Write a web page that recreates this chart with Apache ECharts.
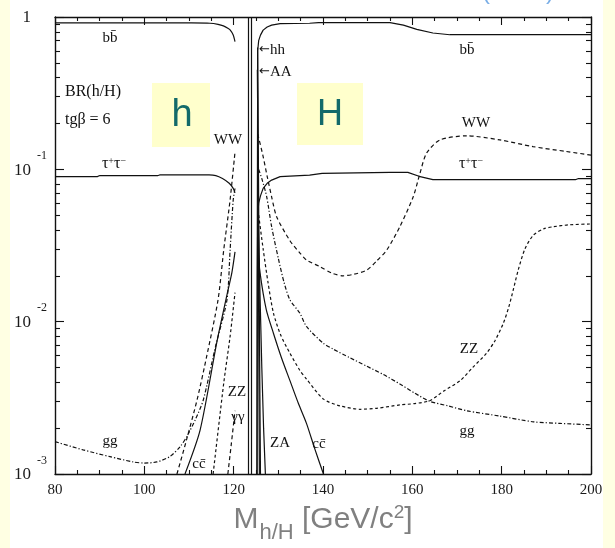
<!DOCTYPE html>
<html>
<head>
<meta charset="utf-8">
<script src="https://cdn.jsdelivr.net/npm/echarts@6/dist/echarts.min.js"></script>
<style>
  html, body { margin: 0; padding: 0; }
  #chart {
    width: 615px; height: 548px;
    background: linear-gradient(to right, #FFFFE3 0, #FFFFE3 10px, #ffffff 10px, #ffffff 603px, #FFFFE3 603px);
  }
</style>
</head>
<body>
<div id="chart"></div>
<script>
// Axis ranges and tick labels
const massTicks = [80, 100, 120, 140, 160, 180, 200];
const brDecades = [0.001, 0.01, 0.1, 1];
// double separator line between the h and H branches
const separatorMass = [123.35, 124.0];

// ---- light scalar h : branching ratios vs mass [GeV] ----
const bb_h = [[80,0.915],[100,0.915],[110,0.914],[114.7,0.91],[116.5,0.895],[117.7,0.875],[118.7,0.845],[119.2,0.823],[119.9,0.763],[120.3,0.69]];
const tautau_h = [[80,0.0896],[89.5,0.0896],[90,0.091],[103,0.091],[103.5,0.092],[114.5,0.092],[116,0.091],[117.5,0.087],[119,0.081],[119.9,0.075],[120.3,0.07]];
const WW_h = [[107.3,0.001],[109,0.0015],[111.8,0.00306],[114,0.006],[116.5,0.0139],[117.8,0.03],[119.2,0.063],[120.3,0.13]];
const gg_h = [[80,0.00163],[86.3,0.00144],[92.3,0.0013],[97.5,0.0012],[100,0.00118],[102.8,0.0012],[105.7,0.0013],[108,0.00151],[109.5,0.00176],[111.5,0.0023],[113.2,0.00306],[116,0.007],[118.5,0.0139],[119.2,0.0295],[119.9,0.063],[120.3,0.075]];
const cc_h = [[109.1,0.001],[112.5,0.00195],[116.3,0.0075],[118.5,0.015],[119.6,0.021],[120.3,0.0287]];
const ZZ_h = [[115.4,0.001],[117.8,0.004],[119.2,0.008],[120.3,0.0155]];
const gamgam_h = [[118.7,0.001],[119.5,0.0016],[120.3,0.0026]];

// ---- heavy scalar H : branching ratios vs mass [GeV] ----
const bb_H = [[125.2,0.001],[125.3,0.05],[125.38,0.6],[125.6,0.7],[126,0.76],[126.6,0.82],[127.5,0.86],[128.5,0.885],[130.4,0.905],[137,0.91],[139,0.918],[155,0.918],[158,0.885],[161,0.83],[164.6,0.785],[168.4,0.765],[200,0.765]];
const tautau_H = [[125.25,0.001],[125.3,0.02],[125.38,0.05],[125.6,0.06],[126,0.067],[126.6,0.075],[127.5,0.081],[128.5,0.085],[130.4,0.0895],[137,0.0915],[139.8,0.094],[155,0.0955],[159,0.0955],[161.5,0.09],[164.6,0.0855],[196.5,0.0855],[197.2,0.087],[200,0.087]];
const WW_H = [[125.4,0.17],[126.5,0.125],[127.5,0.09],[128.5,0.066],[129.6,0.049],[132.6,0.034],[134.8,0.0283],[136.3,0.0254],[139.3,0.023],[142,0.0208],[144.5,0.02],[147,0.0205],[149.8,0.0218],[152,0.025],[154.3,0.0296],[157.2,0.042],[160.2,0.066],[161.7,0.094],[163.2,0.128],[166.2,0.156],[172.2,0.166],[179.6,0.156],[187,0.141],[194.5,0.131],[200,0.124]];
const gg_H = [[125.6,0.1],[126.4,0.085],[127.4,0.066],[128.5,0.042],[130,0.026],[131.3,0.018],[132.6,0.0139],[134.8,0.0114],[136.3,0.0093],[140.1,0.0072],[142.3,0.0066],[146,0.0058],[149.8,0.0051],[153.5,0.0045],[157.2,0.0039],[160.5,0.0034],[163.9,0.003],[168,0.0028],[172.2,0.0026],[179.6,0.0024],[187.1,0.0022],[193,0.00215],[200,0.0021]];
const ZZ_H = [[125.6,0.05],[126.6,0.03],[127.7,0.018],[128.9,0.0114],[130.5,0.0082],[132.6,0.0062],[134.8,0.0048],[136.3,0.0042],[140.1,0.0031],[143.8,0.0028],[148.3,0.00266],[152,0.0027],[157.2,0.00284],[160.5,0.0029],[163.9,0.00303],[167,0.0035],[170.7,0.0041],[173.5,0.005],[176.6,0.0062],[178.5,0.0075],[180.4,0.0098],[181.6,0.0125],[182.6,0.0162],[183.7,0.0218],[185.2,0.03],[187.1,0.037],[189.5,0.0408],[191.6,0.042],[195,0.0432],[200,0.0438]];
const cc_H = [[125.45,0.03],[125.9,0.021],[127.3,0.012],[128.9,0.0084],[130.7,0.0058],[132.6,0.0041],[134.5,0.0029],[136.3,0.00215],[138.2,0.00145],[140.1,0.001]];
const hh_H = [[125.35,0.63],[125.45,0.3],[125.55,0.1],[125.7,0.02],[125.85,0.004],[126,0.001]];
const AA_H = [[125.3,0.45],[125.35,0.3],[125.45,0.08],[125.6,0.01],[125.75,0.001]];
const ZA_H = [[125.5,0.05],[125.9,0.015],[126.3,0.005],[126.7,0.002],[127.1,0.001]];

// minor ticks of the log axis: 2..9 within each decade
const minorBR = [];
for (let d = -3; d < 0; d++) for (let k = 2; k <= 9; k++) minorBR.push(+(k * Math.pow(10, d)).toPrecision(3));

const INK = '#111';
const SERIF = 'Liberation Serif';
const SANS = 'Liberation Sans';
const TITLE_GRAY = '#808080';
const DASH = [4, 3];
const DASH_FINE = [3, 2.5];
const DASH_DOT = [4, 2, 1.2, 2];

function curve(name, data, dash, smooth) {
  return {
    name, type: 'line', data, showSymbol: false, symbol: 'none',
    smooth: smooth === undefined ? 0.25 : smooth,
    lineStyle: { color: INK, width: 1.2, type: dash || 'solid' },
    silent: true, animation: false, clip: true, z: 3
  };
}

const tickLine = { color: INK, width: 1.1 };
const minorYAxis = (pos) => ({
  type: 'log', logBase: 10, min: brDecades[0], max: brDecades[brDecades.length - 1], position: pos,
  axisLine: { show: false }, axisLabel: { show: false }, splitLine: { show: false },
  axisTick: { show: true, inside: true, length: 5, customValues: minorBR, lineStyle: tickLine }
});

const chart = echarts.init(document.getElementById('chart'), null, { renderer: 'canvas' });

const label = (text, x, y, extra) => ({
  type: 'text', x, y, z: 50, silent: true,
  style: Object.assign({ text, font: '15px "Liberation Serif"', fill: INK, align: 'center', verticalAlign: 'middle' }, extra || {})
});
const richTau = {
  t: { fontSize: 16, fontFamily: SERIF, fill: INK, lineHeight: 16, padding: [6, 0, 0, 0], verticalAlign: 'bottom' },
  s: { fontSize: 10, fontFamily: SERIF, fill: INK, lineHeight: 10, verticalAlign: 'top' }
};
const richArrow = {
  a: { fontSize: 13, fontFamily: 'DejaVu Sans', fill: INK },
  t: { fontSize: 15, fontFamily: SERIF, fill: INK }
};

chart.setOption({
  animation: false,
  grid: { left: 55, top: 17, width: 536, height: 457, outerBoundsMode: 'none', containLabel: false },
  xAxis: [
    {
      type: 'value', min: massTicks[0], max: massTicks[massTicks.length - 1], interval: 20, position: 'bottom',
      axisLine: { show: true, onZero: false, lineStyle: { color: INK, width: 1.4 } },
      axisTick: { show: true, inside: true, length: 8, lineStyle: tickLine },
      minorTick: { show: true, splitNumber: 4, length: 4, lineStyle: tickLine },
      splitLine: { show: false }, minorSplitLine: { show: false },
      axisLabel: { show: true, margin: 9, fontFamily: SERIF, fontSize: 15, color: '#1a1a1a',
        customValues: massTicks },
      name: '{m|M}{sub|h/H}{t| [GeV/c}{sup|2}{t|]}', nameLocation: 'middle', nameGap: 38,
      nameTextStyle: {
        rich: {
          m: { fontSize: 30, fontFamily: SANS, color: TITLE_GRAY, lineHeight: 30, padding: [0, 0, 9, 0], verticalAlign: 'bottom' },
          t: { fontSize: 30, fontFamily: SANS, color: TITLE_GRAY, lineHeight: 30, padding: [0, 0, 9, 0], verticalAlign: 'bottom' },
          sub: { fontSize: 22, fontFamily: SANS, color: TITLE_GRAY, lineHeight: 22, padding: [0, 0, 0, 1], verticalAlign: 'bottom' },
          sup: { fontSize: 19, fontFamily: SANS, color: TITLE_GRAY, lineHeight: 19, padding: [0, 0, 22, 0], verticalAlign: 'bottom' }
        }
      }
    },
    {
      type: 'value', min: massTicks[0], max: massTicks[massTicks.length - 1], interval: 20, position: 'top',
      axisLine: { show: true, onZero: false, lineStyle: { color: INK, width: 1.4 } },
      axisTick: { show: true, inside: true, length: 8, lineStyle: tickLine },
      minorTick: { show: true, splitNumber: 4, length: 4, lineStyle: tickLine },
      splitLine: { show: false }, axisLabel: { show: false }
    }
  ],
  yAxis: [
    {
      type: 'log', logBase: 10, min: brDecades[0], max: brDecades[brDecades.length - 1], position: 'left',
      axisLine: { show: true, onZero: false, lineStyle: { color: INK, width: 1.4 } },
      axisTick: { show: true, inside: true, length: 9, lineStyle: tickLine },
      splitLine: { show: false },
      axisLabel: {
        show: true, margin: 8, align: 'right', padding: [0, 0, 22, 0],
        formatter: (v) => {
          const e = Math.round(Math.log10(v));
          return e === 0 ? '{b|1}{s| }' : '{b|10}{s|' + e + '}';
        },
        rich: {
          b: { fontSize: 17, fontFamily: SERIF, color: '#1a1a1a', lineHeight: 17, padding: [12, 0, 5, 0], verticalAlign: 'top' },
          s: { fontSize: 12, fontFamily: SERIF, color: '#1a1a1a', lineHeight: 12, width: 14, padding: [0, 0, 0, 2], verticalAlign: 'top' }
        }
      }
    },
    minorYAxis('left'),
    {
      type: 'log', logBase: 10, min: brDecades[0], max: brDecades[brDecades.length - 1], position: 'right',
      axisLine: { show: true, onZero: false, lineStyle: { color: INK, width: 1.4 } },
      axisTick: { show: true, inside: true, length: 9, lineStyle: tickLine },
      splitLine: { show: false }, axisLabel: { show: false }
    },
    minorYAxis('right')
  ],
  series: [
    curve('bb h', bb_h),
    curve('tautau h', tautau_h),
    curve('WW h', WW_h, DASH),
    curve('gg h', gg_h, DASH_DOT),
    curve('cc h', cc_h),
    curve('ZZ h', ZZ_h, DASH_FINE),
    curve('gamgam h', gamgam_h, DASH),
    curve('bb H', bb_H, 'solid', false),
    curve('tautau H', tautau_H, 'solid', false),
    curve('WW H', WW_H, DASH),
    curve('gg H', gg_H, DASH_DOT),
    curve('ZZ H', ZZ_H, DASH_FINE),
    curve('cc H', cc_H),
    curve('hh H', hh_H, 'solid', false),
    curve('AA H', AA_H, 'solid', false),
    curve('ZA H', ZA_H, 'solid', false),
    {
      name: 'separator', type: 'line', data: [], silent: true,
      markLine: {
        symbol: 'none', silent: true, animation: false, label: { show: false },
        lineStyle: { color: INK, width: 1.2, type: 'solid' },
        data: separatorMass.map((m) => ({ xAxis: m }))
      }
    }
  ],
  graphic: [
    // channel labels
    label('bb\u0304', 110, 38),
    label('bb\u0304', 467, 50),
    label('BR(h/H)', 65, 92, { align: 'left', font: '16px "Liberation Serif"' }),
    label('tg\u03b2 = 6', 65, 120, { align: 'left', font: '16px "Liberation Serif"' }),
    label('{t|\u03c4}{s|+}{t|\u03c4}{s|\u2212}', 114, 164, { rich: richTau }),
    label('{t|\u03c4}{s|+}{t|\u03c4}{s|\u2212}', 471, 164, { rich: richTau }),
    label('WW', 228, 140),
    label('WW', 476, 123),
    label('ZZ', 237, 392),
    label('\u03b3\u03b3', 238, 417),
    label('cc\u0304', 199, 464),
    label('gg', 110, 441),
    label('ZA', 280, 443),
    label('cc\u0304', 319, 444),
    label('ZZ', 469, 349),
    label('gg', 467, 431),
    label('{a|\u2190}{t|hh}', 259, 50, { rich: richArrow, align: 'left' }),
    label('{a|\u2190}{t|AA}', 259, 72, { rich: richArrow, align: 'left' }),
    // h / H tags
    { type: 'rect', z: 60, silent: true, shape: { x: 152, y: 83, width: 58, height: 64 }, style: { fill: '#FFFFCC' } },
    { type: 'rect', z: 60, silent: true, shape: { x: 297, y: 83, width: 66, height: 62 }, style: { fill: '#FFFFCC' } },
    { type: 'text', z: 61, silent: true, x: 182, y: 116,
      style: { text: 'h', font: '38px "Liberation Sans"', fill: '#136a6a', align: 'center', verticalAlign: 'middle',
        textShadowColor: '#023333', textShadowOffsetX: 1.5, textShadowOffsetY: 1.5, textShadowBlur: 0 } },
    { type: 'text', z: 61, silent: true, x: 330, y: 115,
      style: { text: 'H', font: '36px "Liberation Sans"', fill: '#136a6a', align: 'center', verticalAlign: 'middle',
        textShadowColor: '#023333', textShadowOffsetX: 1.5, textShadowOffsetY: 1.5, textShadowBlur: 0 } },
    // brackets of the heading above
    { type: 'text', z: 61, silent: true, x: 486, y: 4,
      style: { text: '(', font: '24px "Liberation Sans"', fill: '#7aaee6', align: 'center', verticalAlign: 'bottom' } },
    { type: 'text', z: 61, silent: true, x: 550, y: 4,
      style: { text: ')', font: '24px "Liberation Sans"', fill: '#7aaee6', align: 'center', verticalAlign: 'bottom' } }
  ]
});
</script>
</body>
</html>
